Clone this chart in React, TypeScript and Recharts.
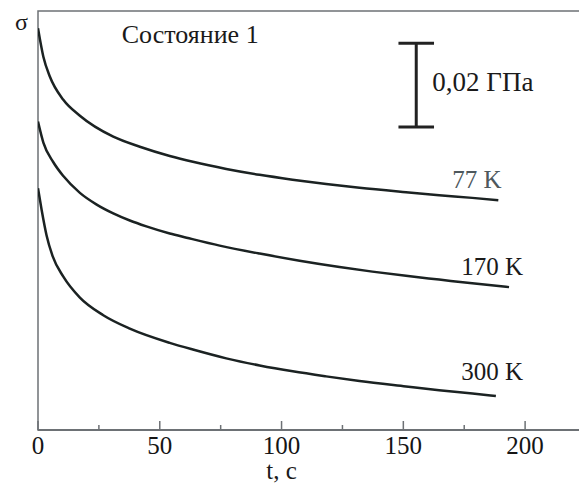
import React from 'react';
import { LineChart, Line, XAxis, YAxis, ReferenceLine, ReferenceDot, ReferenceArea } from 'recharts';

// time, s
const t77 = [0, 2.2, 4.9, 10.4, 17.2, 30.9, 41.8, 54.1, 63.6, 77.3, 91.0, 104.5, 118.3, 132, 151.1, 164.7, 178.3, 189];
// relative stress, MPa (0.02 GPa = 20 MPa)
const s77 = [95.9, 89.1, 84.3, 78.8, 75.0, 70.0, 67.6, 65.4, 64.0, 62.3, 60.9, 59.75, 58.7, 57.8, 56.75, 56.05, 55.4, 54.85];

const t170 = [0, 2.2, 6.3, 10.4, 17.2, 24.1, 30.9, 37.7, 44.5, 54.1, 61, 74.6, 91, 107.4, 123.8, 137.3, 151.1, 164.7, 178.3, 193.4];
const s170 = [73.6, 68.6, 63.9, 60.6, 56.6, 53.8, 51.7, 50.0, 48.6, 46.9, 45.9, 44.0, 42.1, 40.4, 38.9, 37.8, 36.8, 35.9, 35.0, 34.1];

const t300 = [0, 1.5, 3.5, 6, 10.4, 17.2, 26.8, 37.7, 54.1, 63.6, 77.3, 91, 104.6, 118.3, 132, 151.1, 164.7, 178.4, 188];
const s300 = [57.7, 52.5, 46.5, 41.5, 36.6, 31.6, 27.4, 24.2, 20.8, 19.2, 17.1, 15.4, 14.0, 12.8, 11.7, 10.4, 9.5, 8.7, 8.1];

const xTicks = [0, 25, 50, 75, 100, 125, 150, 175, 200];
const majorStep = 50;

const seriesNames = ['77 K', '170 K', '300 K'];
const titleText = 'Состояние 1';
const scaleText = '0,02 ГПа';
const yTitle = 'σ';
const xTitle = 't, c';

// scale bar: 20 MPa
const scaleX = 155.3;
const scaleLow = 72.3;
const scaleHigh = 92.3;
const capHalf = 7.3;

const zip = (t: number[], s: number[]) => t.map((v, i) => ({ t: v, s: s[i] }));
const d77 = zip(t77, s77);
const d170 = zip(t170, s170);
const d300 = zip(t300, s300);

const FONT = "'Liberation Serif', 'Times New Roman', serif";
const AXIS = '#6d7175';
const INK = '#1b2222';

const XTick = (props: any) => {
  const { x, y, payload } = props;
  const v = payload.value;
  const major = v % majorStep === 0;
  return (
    <g>
      <line x1={x} x2={x} y1={y} y2={y - (major ? 9 : 5)} stroke={AXIS} strokeWidth={1.5} />
      {major && (
        <text x={x} y={y + 24} textAnchor="middle" style={{ fontFamily: FONT, fontSize: 25 }} fill="#151515">
          {v}
        </text>
      )}
    </g>
  );
};

const textLabel = (value: string, opts: { anchor?: string; size?: number; fill?: string }) => (props: any) => {
  const vb = props.viewBox || {};
  return (
    <text
      x={vb.x}
      y={vb.y}
      textAnchor={opts.anchor || 'start'}
      style={{ fontFamily: FONT, fontSize: opts.size || 25 }}
      fill={opts.fill || '#1a1a1a'}
    >
      {value}
    </text>
  );
};

export default function App() {
  return (
    <LineChart width={579} height={477} margin={{ top: 3, right: 1, bottom: 5, left: 30 }}>
      <XAxis
        type="number"
        dataKey="t"
        domain={[0, 225]}
        ticks={xTicks}
        interval={0}
        tickSize={0}
        tickMargin={0}
        tickLine={false}
        tick={<XTick />}
        axisLine={{ stroke: AXIS, strokeWidth: 2 }}
        height={50}
        allowDataOverflow
      />
      <YAxis
        type="number"
        domain={[0, 100]}
        width={0}
        tick={false}
        tickLine={false}
        axisLine={{ stroke: AXIS, strokeWidth: 2 }}
        allowDataOverflow
      />
      <ReferenceArea x1={0} x2={225} y1={0} y2={100} fill="none" stroke={AXIS} strokeWidth={1.5} ifOverflow="visible" />

      <Line data={d77} dataKey="s" type="monotone" stroke={INK} strokeWidth={2.5} dot={false} isAnimationActive={false} />
      <Line data={d170} dataKey="s" type="monotone" stroke={INK} strokeWidth={2.5} dot={false} isAnimationActive={false} />
      <Line data={d300} dataKey="s" type="monotone" stroke={INK} strokeWidth={2.5} dot={false} isAnimationActive={false} />

      <ReferenceLine segment={[{ x: scaleX, y: scaleLow }, { x: scaleX, y: scaleHigh }]} stroke="#222" strokeWidth={3} ifOverflow="visible" />
      <ReferenceLine segment={[{ x: scaleX - capHalf, y: scaleLow }, { x: scaleX + capHalf, y: scaleLow }]} stroke="#222" strokeWidth={3} ifOverflow="visible" />
      <ReferenceLine segment={[{ x: scaleX - capHalf, y: scaleHigh }, { x: scaleX + capHalf, y: scaleHigh }]} stroke="#222" strokeWidth={3} ifOverflow="visible" />

      <ReferenceDot x={34.4} y={92.4} r={0} ifOverflow="visible" label={{ content: textLabel(titleText, { size: 26 }) }} />
      <ReferenceDot x={161.9} y={80.9} r={0} ifOverflow="visible" label={{ content: textLabel(scaleText, { size: 27 }) }} />
      <ReferenceDot x={170.1} y={57.8} r={0} ifOverflow="visible" label={{ content: textLabel(seriesNames[0], { fill: '#4e585c' }) }} />
      <ReferenceDot x={173.8} y={37.0} r={0} ifOverflow="visible" label={{ content: textLabel(seriesNames[1], {}) }} />
      <ReferenceDot x={173.8} y={11.9} r={0} ifOverflow="visible" label={{ content: textLabel(seriesNames[2], {}) }} />
      <ReferenceDot x={-9.4} y={95.5} r={0} ifOverflow="visible" label={{ content: textLabel(yTitle, { size: 24 }) }} />
      <ReferenceDot x={100} y={-11.6} r={0} ifOverflow="visible" label={{ content: textLabel(xTitle, { anchor: 'middle' }) }} />
    </LineChart>
  );
}
